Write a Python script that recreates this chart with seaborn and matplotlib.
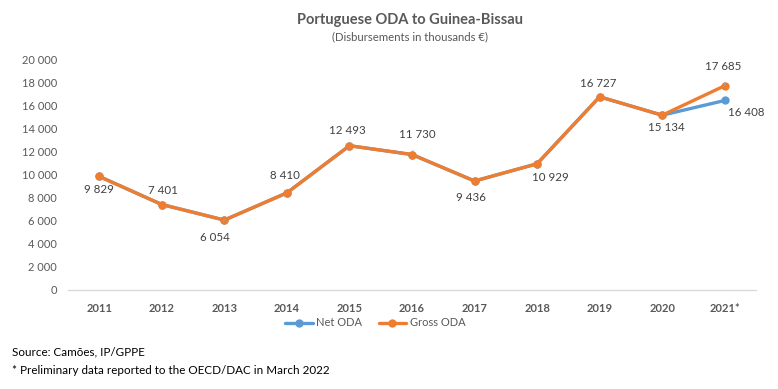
import matplotlib
matplotlib.use("Agg")
import matplotlib.pyplot as plt
import pandas as pd
import seaborn as sns

years = ['2011', '2012', '2013', '2014', '2015', '2016', '2017', '2018', '2019', '2020', '2021*']
net_oda = [9829, 7401, 6054, 8410, 12493, 11730, 9436, 10929, 16727, 15134, 16408]
gross_oda = [9829, 7401, 6054, 8410, 12493, 11730, 9436, 10929, 16727, 15134, 17685]
yticks = list(range(0, 20001, 2000))

df = pd.DataFrame({
    'year': years * 2,
    'value': net_oda + gross_oda,
    'series': ['Net ODA'] * len(years) + ['Gross ODA'] * len(years),
})

sns.set_style('white')
plt.rcParams['font.family'] = ['Lato', 'DejaVu Sans']

fig = plt.figure(figsize=(7.78, 3.89), dpi=100)
ax = fig.add_axes([68 / 778, 1 - 290 / 389, (756 - 68) / 778, (290 - 59) / 389])

palette = {'Net ODA': '#5B9BD5', 'Gross ODA': '#ED7D31'}
sns.lineplot(data=df, x='year', y='value', hue='series', hue_order=['Net ODA', 'Gross ODA'],
             palette=palette, sort=False, marker='o', markersize=6, markeredgewidth=0,
             linewidth=2.4, ax=ax)

ax.set_xlim(-0.5, len(years) - 0.5)
ax.set_ylim(0, 20000)
ax.set_yticks(yticks)
ax.set_yticklabels([f'{v:,}'.replace(',', ' ') for v in yticks])
ax.set_xlabel('')
ax.set_ylabel('')
for s in ['top', 'right', 'left']:
    ax.spines[s].set_visible(False)
ax.spines['bottom'].set_color('#D9D9D9')
ax.spines['bottom'].set_linewidth(1)
ax.tick_params(axis='both', length=0, colors='#595959', labelsize=8)
ax.tick_params(axis='y', pad=8)
ax.tick_params(axis='x', pad=9)
for t in ax.get_xticklabels():
    t.set_fontweight('bold')

# label offsets in pixels (dx, dy), leader line flag
offsets = [(0, -13, False), (1, 14, False), (-9, -17, True), (-2, 17, False), (-2, 15, False),
           (5, 20, True), (-4, -16, True), (13, -14, False), (-1, 13, False), (4, -12, False),
           (-2, 19, True)]
fmt = lambda v: f'{v:,}'.replace(',', ' ')
for i, (v, (dx, dy, lead)) in enumerate(zip(gross_oda, offsets)):
    kw = {}
    if lead:
        kw['arrowprops'] = dict(arrowstyle='-', color='#A6A6A6', lw=0.6, shrinkA=5, shrinkB=3)
    ax.annotate(fmt(v), (i, v), xytext=(dx, dy), textcoords='offset pixels',
                ha='center', va='center', fontsize=8.3, color='#404040', **kw)
ax.annotate(fmt(net_oda[-1]), (len(years) - 1, net_oda[-1]), xytext=(22, -12),
            textcoords='offset pixels', ha='center', va='center', fontsize=8.3, color='#404040')

leg = ax.legend(loc='center', bbox_to_anchor=(375 / 778, 1 - 323 / 389),
                bbox_transform=fig.transFigure, ncol=2, frameon=False, fontsize=8,
                handlelength=2.5, columnspacing=1.5, handletextpad=0.3)
for t in leg.get_texts():
    t.set_color('#595959')

fig.text(410 / 778, 1 - 20 / 389, 'Portuguese ODA to Guinea-Bissau', ha='center', va='center',
         fontsize=10.5, fontweight='bold', color='#595959')
fig.text(410 / 778, 1 - 37 / 389, '(Disbursements in thousands €)', ha='center', va='center',
         fontsize=8.2, color='#595959')
fig.text(12 / 778, 1 - 352 / 389, 'Source: Camões, IP/GPPE', ha='left', va='center',
         fontsize=8.4, color='#000000')
fig.text(12 / 778, 1 - 371 / 389, '* Preliminary data reported to the OECD/DAC in March 2022',
         ha='left', va='center', fontsize=8.4, color='#000000')

fig.savefig('out.png', dpi=100)
